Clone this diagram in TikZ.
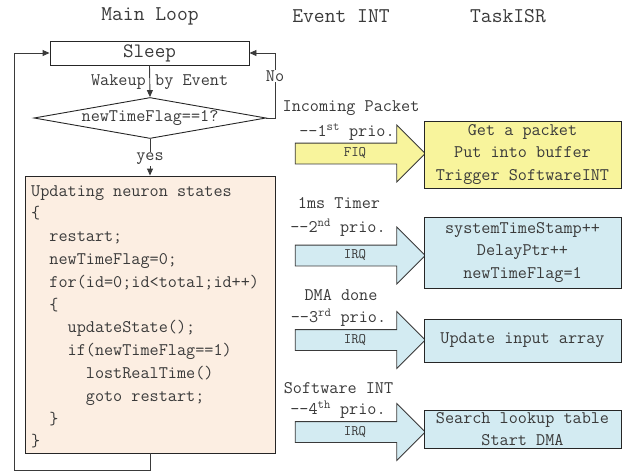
\documentclass[tikz,border=0pt]{standalone}
\usepackage{fontspec}
\usetikzlibrary{shapes.geometric,shapes.arrows,arrows.meta}

\definecolor{inkgray}{HTML}{3A3A3A}
\definecolor{codefill}{HTML}{FCEEE2}
\definecolor{fiqfill}{HTML}{F8F49C}
\definecolor{irqfill}{HTML}{D3EBF2}

\newcommand{\bodyfont}{\ttfamily\fontsize{17.7}{22.8}\selectfont}
\newcommand{\titlefont}{\ttfamily\fontsize{21}{24}\selectfont}
\newcommand{\tagfont}{\ttfamily\fontsize{14.5}{16}\selectfont}

\tikzset{
  every node/.style={text=inkgray, font=\bodyfont, inner sep=0pt},
  line/.style={draw=inkgray, line width=0.9pt},
  flow/.style={line, -{Triangle[length=7pt,width=6pt]}},
  boxframe/.style={draw=black!85, line width=0.9pt},
  isrbox/.style={boxframe, rectangle, minimum width=197pt, align=center},
  blockarrow/.style={single arrow, draw=inkgray, line width=0.8pt,
    text height=7pt, text depth=1pt, inner sep=6pt,
    minimum width=56pt, single arrow head extend=18pt,
    single arrow tip angle=90, minimum height=130pt,
    font=\tagfont},
  lbl/.style={fill=white, inner sep=1pt},
}

\begin{document}
\begin{tikzpicture}[x=1pt, y=-1pt]
  \useasboundingbox (0,0) rectangle (628,472);

  % column headings
  \node[font=\titlefont] (hmain) at (150,16) {Main Loop};
  \node[font=\titlefont] (hevt)  at (341,16) {Event INT};
  \node[font=\titlefont] (hisr)  at (508,16) {TaskISR};

  % main loop flow
  \node[boxframe, rectangle, minimum width=199pt, minimum height=24pt,
        font=\ttfamily\fontsize{20.5}{24}\selectfont] (sleep) at (149.5,53) {Sleep};
  \node[boxframe, diamond, minimum width=232pt, minimum height=41pt,
        shape aspect=5.66, text height=8pt, text depth=2pt] (check) at (150,118) {newTimeFlag==1?};
  \node[boxframe, rectangle, fill=codefill, minimum width=250pt, minimum height=277pt] (code) at (150,314.5) {};

  \node[anchor=north west, align=left] (codetxt) at (31,185) {%
    Updating neuron states\\
    \{\\
    \ \ restart;\\
    \ \ newTimeFlag=0;\\
    \ \ for(id=0;id<total;id++)\\
    \ \ \{\\
    \ \ \ \ updateState();\\
    \ \ \ \ if(newTimeFlag==1)\\
    \ \ \ \ \ \ lostRealTime()\\
    \ \ \ \ \ \ goto restart;\\
    \ \ \}\\
    \}};

  \coordinate (noright) at (275,118);
  \coordinate (noup) at (275,53);
  \coordinate (backdown) at (150,470);
  \coordinate (backleft) at (14,470);
  \coordinate (backup) at (14,53);

  \draw[flow] (sleep.south) -- (check.north);
  \node[anchor=east] (wake) at (146,82) {Wakeup};
  \node[anchor=west] (byevt) at (155,82) {by Event};

  \draw[flow] (check.east) -- (noright) -- (noup) -- (sleep.east);
  \node[lbl] (no) at (275,76) {No};

  \draw[flow] (check.south) -- (code.north);
  \node[lbl] (yes) at (150,159) {yes};

  \draw[flow] (code.south) -- (backdown) -- (backleft) -- (backup) -- (sleep.west);

  % interrupt sources
  \node (src1) at (351,108) {Incoming Packet};
  \node (pri1) at (347,132) {-{}-1\textsuperscript{st} prio.};
  \node[blockarrow, fill=fiqfill] (fiq) at (355,153.5) {FIQ};

  \node (src2) at (339,203) {1ms Timer};
  \node (pri2) at (338,228) {-{}-2\textsuperscript{nd} prio.};
  \node[blockarrow, fill=irqfill] (irq1) at (355,255.5) {IRQ};

  \node (src3) at (341,295) {DMA done};
  \node (pri3) at (338.5,318) {-{}-3\textsuperscript{rd} prio.};
  \node[blockarrow, fill=irqfill] (irq2) at (355,340) {IRQ};

  \node (src4) at (338.5,388) {Software INT};
  \node (pri4) at (338,410) {-{}-4\textsuperscript{th} prio.};
  \node[blockarrow, fill=irqfill] (irq3) at (355,432) {IRQ};

  % task service routines
  \node[isrbox, fill=fiqfill, minimum height=67pt] (isr1) at (522.5,154.5)
    {Get a packet\\Put into buffer\\Trigger SoftwareINT};
  \node[isrbox, fill=irqfill, minimum height=71pt] (isr2) at (522.5,252.5)
    {systemTimeStamp++\\DelayPtr++\\newTimeFlag=1};
  \node[isrbox, fill=irqfill, minimum height=43pt] (isr3) at (522.5,340.5)
    {Update input array};
  \node[isrbox, fill=irqfill, minimum height=38pt] (isr4) at (522.5,429)
    {Search lookup table\\Start DMA};
\end{tikzpicture}
\end{document}
